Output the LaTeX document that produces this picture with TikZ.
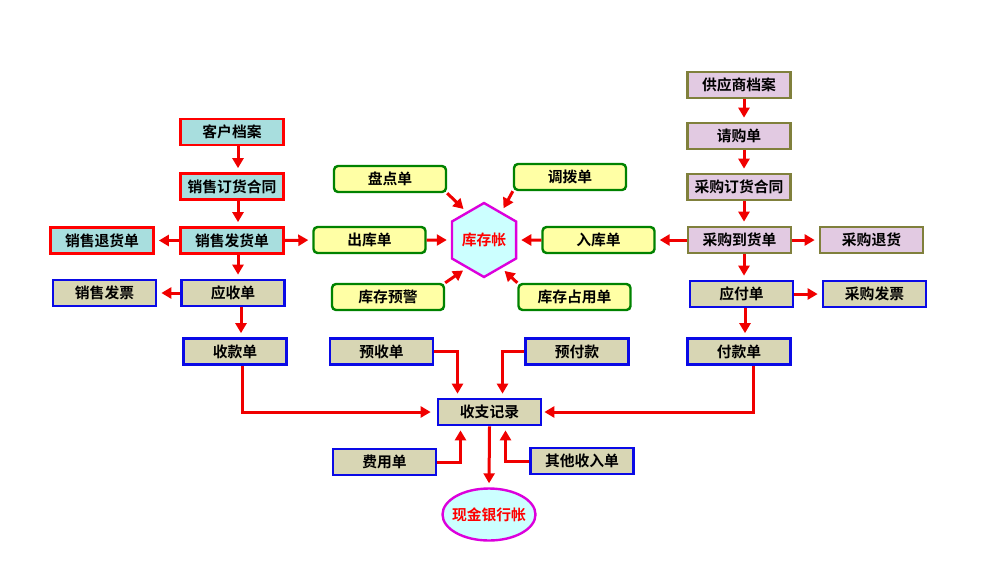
\documentclass[tikz,border=0pt]{standalone}
\usepackage{fontspec}
\usepackage{tikz}
\usetikzlibrary{arrows.meta,shapes,positioning,calc}
\newfontfamily\cjk[BoldFont={* Bold}]{Noto Sans CJK SC}

\definecolor{boxcyan}{RGB}{168,222,222}
\definecolor{boxkhaki}{RGB}{216,214,180}
\definecolor{boxyellow}{RGB}{255,255,165}
\definecolor{boxpurple}{RGB}{226,202,226}
\definecolor{lineolive}{RGB}{128,128,60}
\definecolor{lightcyan}{RGB}{204,255,255}
\definecolor{linegreen}{RGB}{0,130,0}
\definecolor{lineblue}{RGB}{10,10,230}
\definecolor{arrred}{RGB}{240,0,0}
\definecolor{hexmagenta}{RGB}{220,0,220}

\begin{document}
\begin{tikzpicture}[x=1pt,y=-1pt,
    every node/.style={font=\cjk\bfseries\fontsize{14.8}{16}\selectfont, inner sep=0pt},
    basebox/.style={draw, line width=2.7pt, minimum width=103pt, minimum height=26pt},
    redbox/.style={basebox, draw=red, fill=boxcyan},
    bluebox/.style={basebox, draw=lineblue, fill=boxkhaki},
    purplebox/.style={basebox, draw=lineolive, fill=boxpurple},
    yellowbox/.style={draw=linegreen, line width=2.4pt, fill=boxyellow, rounded corners=4pt,
        minimum width=112pt, minimum height=26pt},
    hexnode/.style={regular polygon, regular polygon sides=6, shape border rotate=30,
        minimum size=74pt, draw=hexmagenta, line width=2.4pt, fill=lightcyan, text=red},
    ellnode/.style={ellipse, minimum width=93pt, minimum height=52pt, inner xsep=-8pt,
        draw=hexmagenta, line width=2.4pt, fill=lightcyan, text=red},
    arr/.style={draw=arrred, line width=3pt, -{Triangle[length=10pt,width=11pt]}, shorten >=4pt},
]

    % Page frame
    \useasboundingbox (0,0) rectangle (981,587);

    % Sales column
    \node[redbox] (kehu) at (232,132) {客户档案};
    \node[redbox] (xsht) at (232,186.5) {销售订货合同};
    \node[redbox] (xsfh) at (232,240.5) {销售发货单};
    \node[redbox] (xsth) at (102,240.5) {销售退货单};
    \node[bluebox] (yingshou) at (233,293) {应收单};
    \node[bluebox] (xsfp) at (104.5,293) {销售发票};
    \node[bluebox] (shoukuan) at (235,351.5) {收款单};

    % Stock
    \node[hexnode] (kucun) at (484,240) {库存帐};
    \node[yellowbox] (pandian) at (390,179) {盘点单};
    \node[yellowbox] (diaobo) at (570,177) {调拨单};
    \node[yellowbox] (chuku) at (369.5,240) {出库单};
    \node[yellowbox] (ruku) at (598.5,240) {入库单};
    \node[yellowbox] (yujing) at (388,297) {库存预警};
    \node[yellowbox] (zhanyong) at (574.5,297) {库存占用单};

    % Purchase column
    \node[purplebox] (gys) at (739,85) {供应商档案};
    \node[purplebox] (qinggou) at (739,136) {请购单};
    \node[purplebox] (cght) at (739,187) {采购订货合同};
    \node[purplebox] (cgdh) at (739.5,240) {采购到货单};
    \node[purplebox] (cgth) at (871.5,240) {采购退货};
    \node[bluebox] (yingfu) at (741.5,294) {应付单};
    \node[bluebox] (cgfp) at (874.5,294) {采购发票};
    \node[bluebox] (fukuan) at (739,351.5) {付款单};

    % Cash
    \node[bluebox] (yushou) at (381.5,351.5) {预收单};
    \node[bluebox] (yufu) at (577,351.5) {预付款};
    \node[bluebox] (shouzhi) at (489.5,412) {收支记录};
    \node[bluebox] (feiyong) at (384.5,462) {费用单};
    \node[bluebox] (qita) at (582,461) {其他收入单};
    \node[ellnode] (xianjin) at (489,514.5) {现金银行帐};

    % Sales arrows
    \draw[arr] ($(kehu.south)+(6,0)$) -- ($(xsht.north)+(6,0)$);
    \draw[arr] ($(xsht.south)+(6,0)$) -- ($(xsfh.north)+(6,0)$);
    \draw[arr] ($(xsfh.south)+(6,0)$) -- ($(yingshou.north)+(5,0)$);
    \draw[arr] ($(yingshou.south)+(8,0)$) -- ($(shoukuan.north)+(6,0)$);
    \draw[arr] (xsfh.west) -- (xsth.east);
    \draw[arr] (yingshou.west) -- (xsfp.east);
    \draw[arr] (xsfh.east) -- (chuku.west);

    % Stock arrows
    \draw[arr] (chuku.east) -- (kucun.west);
    \draw[arr] (ruku.west) -- (kucun.east);
    \draw[arr] (pandian.south east) -- (kucun.122);
    \draw[arr] (diaobo.south west) -- (kucun.58);
    \draw[arr] (yujing.north east) -- (kucun.238);
    \draw[arr] (zhanyong.north west) -- (kucun.302);

    % Purchase arrows
    \draw[arr] ($(gys.south)+(5,0)$) -- ($(qinggou.north)+(5,0)$);
    \draw[arr] ($(qinggou.south)+(5,0)$) -- ($(cght.north)+(5,0)$);
    \draw[arr] ($(cght.south)+(5,0)$) -- ($(cgdh.north)+(4.5,0)$);
    \draw[arr] ($(cgdh.south)+(4.5,0)$) -- ($(yingfu.north)+(2.5,0)$);
    \draw[arr] ($(yingfu.south)+(3.5,0)$) -- ($(fukuan.north)+(6,0)$);
    \draw[arr] (cgdh.west) -- (ruku.east);
    \draw[arr] (cgdh.east) -- (cgth.west);
    \draw[arr] (yingfu.east) -- (cgfp.west);

    % Cash arrows
    \draw[arr, shorten >=6pt] ($(shoukuan.south)+(7,0)$) |- (shouzhi.west);
    \draw[arr, shorten >=2pt] ($(fukuan.south)+(14,0)$) |- (shouzhi.east);
    \draw[arr] (yushou.east) -| ($(shouzhi.north)+(-32,0)$);
    \draw[arr] (yufu.west) -| ($(shouzhi.north)+(13,0)$);
    \draw[arr] (feiyong.east) -| ($(shouzhi.south)+(-29,0)$);
    \draw[arr] (qita.west) -| ($(shouzhi.south)+(16,0)$);
    \draw[arr] (shouzhi.south) -- (xianjin.north);
\end{tikzpicture}
\end{document}
